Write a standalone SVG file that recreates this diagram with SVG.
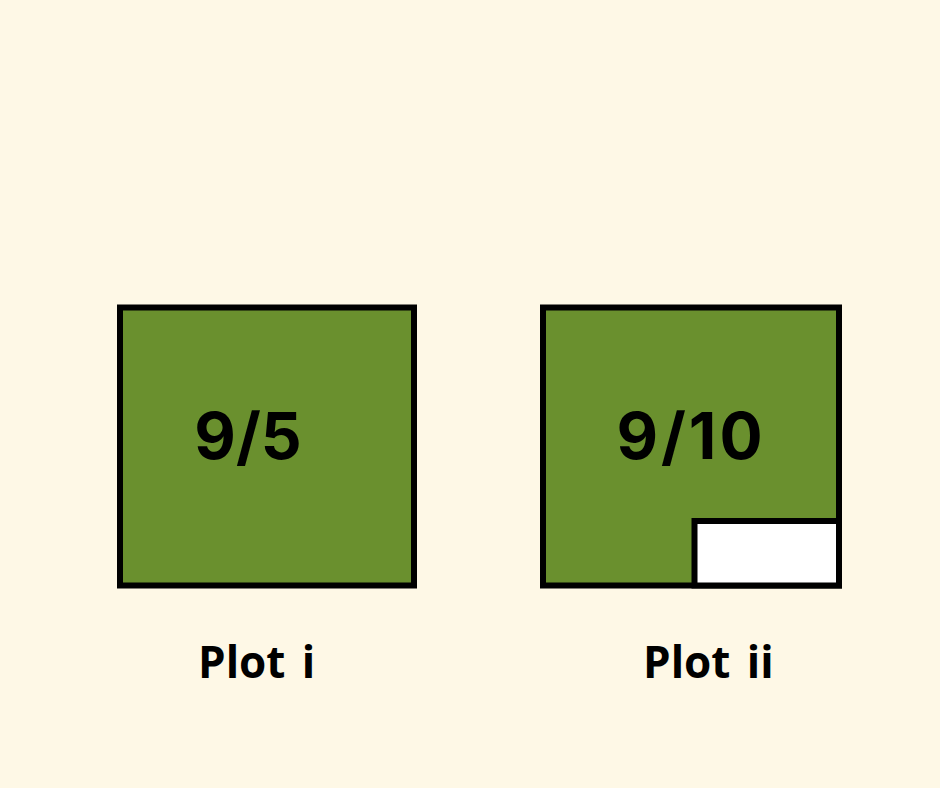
<svg xmlns="http://www.w3.org/2000/svg" width="940" height="788" viewBox="0 0 940 788">
<style>
.plot{fill:#6a902e;stroke:#000;stroke-width:6}
.cut{fill:#fff;stroke:#000;stroke-width:6}
.frac{font-family:Inter,"Liberation Sans",sans-serif;font-weight:700;font-size:64px;fill:#000;text-anchor:middle}
.lab{font-family:"Open Sans","Noto Sans",sans-serif;font-weight:700;font-size:44px;fill:#000;word-spacing:5px}
</style>
<rect width="940" height="788" fill="#fef8e6"/>
<g id="plot-i">
<rect class="plot" x="120" y="307.5" width="294" height="278"/>
<text class="frac" x="248" y="459">9/5</text>
</g>
<g id="plot-ii">
<rect class="plot" x="543" y="307.5" width="296" height="278"/>
<rect class="cut" x="694.5" y="521" width="144.5" height="64.5"/>
<text class="frac" x="691" y="459" letter-spacing="3">9/10</text>
</g>
<g id="labels">
<text class="lab" x="198" y="678">Plot i</text>
<text class="lab" x="643" y="678">Plot ii</text>
</g>
<g id="connectors"/>
</svg>
